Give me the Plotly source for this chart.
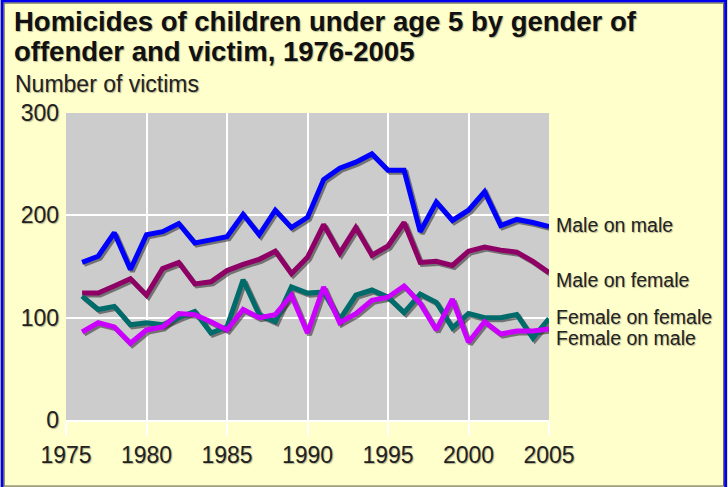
import plotly.graph_objects as go

years = list(range(1976, 2006))
male_on_male = [154, 160, 183, 147, 181, 184, 192, 173, 176, 179,
                201, 181, 205, 188, 198, 235, 246, 252, 260, 244,
                244, 184, 213, 195, 205, 223, 190, 196, 193, 189]
male_on_female = [124, 124, 131, 138, 122, 148, 154, 133, 135, 146,
                  152, 157, 165, 143, 159, 191, 163, 188, 161, 170,
                  193, 154, 155, 151, 165, 169, 166, 164, 155, 144]
female_on_female = [121, 108, 111, 93, 95, 93, 100, 106, 85, 91,
                    137, 103, 96, 130, 124, 125, 98, 122, 127, 120,
                    105, 123, 115, 90, 104, 100, 100, 103, 80, 99]
female_on_male = [86, 95, 91, 75, 88, 91, 104, 103, 96, 88,
                  108, 100, 103, 122, 85, 130, 95, 104, 117, 120,
                  131, 114, 88, 118, 76, 96, 84, 87, 87, 89]

series_names = ["Male on male", "Male on female", "Female on female", "Female on male"]
series_values = [male_on_male, male_on_female, female_on_female, female_on_male]
series_colors = ["#0000FF", "#8E0066", "#006B6B", "#CC00FF"]
label_y = [191, 137, 101, 80]

title_lines = ["Homicides of children under age 5 by gender of",
               "offender and victim, 1976-2005"]
y_title = "Number of victims"
x_ticks = [1975, 1980, 1985, 1990, 1995, 2000, 2005]
y_ticks = [0, 100, 200, 300]

W, H = 728, 487
L, R, T, B = 65.5, 549.5, 113.3, 420.0
pw, ph = R - L, B - T


def px(xp):
    return (xp - L) / pw


def py(yp):
    return (B - yp) / ph


sdx = 2.0 * 30 / pw
sdy = 2.0 * 300 / ph

fig = go.Figure()
for vals in series_values:
    fig.add_trace(go.Scatter(x=years, y=vals, mode="lines", xaxis="x2", yaxis="y2",
                             line=dict(color="rgba(40,40,40,0.55)", width=5),
                             hoverinfo="skip", showlegend=False))
for name, vals, col in zip(series_names, series_values, series_colors):
    fig.add_trace(go.Scatter(x=years, y=vals, mode="lines", name=name, xaxis="x3", yaxis="y3",
                             line=dict(color=col, width=5), showlegend=False))

txt_shadow = "1px 1px 1px rgba(0,0,0,0.3)"
font_fam = "Liberation Sans, Arial, sans-serif"

for name, ly in zip(series_names, label_y):
    fig.add_annotation(x=2005, y=ly, xref="x", yref="y", text=name, showarrow=False,
                       xanchor="left", yanchor="middle", xshift=5,
                       font=dict(family=font_fam, size=19.5, color="#222", shadow=txt_shadow))

for line, yc in zip(title_lines, [22, 52]):
    fig.add_annotation(x=px(11), y=py(yc), xref="paper", yref="paper", text=line,
                       showarrow=False, xanchor="left", yanchor="middle",
                       font=dict(family=font_fam, size=27.5, color="#111", weight="bold",
                                 shadow=txt_shadow))

fig.add_annotation(x=px(12), y=py(84), xref="paper", yref="paper", text=y_title,
                   showarrow=False, xanchor="left", yanchor="middle",
                   font=dict(family=font_fam, size=23, color="#222", shadow=txt_shadow))

shapes = [
    dict(type="rect", xref="paper", yref="paper", x0=px(1.5), x1=px(726.5), y0=py(495), y1=py(1.5),
         line=dict(color="#0000EE", width=3), layer="above"),
    dict(type="rect", xref="paper", yref="paper", x0=px(3.5), x1=px(724.5), y0=py(486), y1=py(3.5),
         line=dict(color="#555544", width=1), layer="above"),
]

fig.update_layout(
    width=W, height=H,
    margin=dict(l=L, r=W - R, t=T, b=H - B, pad=0),
    paper_bgcolor="#FFFFCC",
    plot_bgcolor="#CCCCCC",
    font=dict(family=font_fam, color="#222"),
    xaxis=dict(range=[1975, 2005], tickvals=x_ticks, ticktext=[str(v) for v in x_ticks],
               showgrid=True, gridcolor="white", gridwidth=2, zeroline=False,
               ticks="outside", ticklen=14, tickwidth=2, tickcolor="white",
               ticklabelstandoff=-1, showline=True, linecolor="white", linewidth=2,
               tickfont=dict(size=23, color="#222", shadow=txt_shadow)),
    yaxis=dict(range=[0, 300], tickvals=y_ticks, showgrid=True, gridcolor="white", gridwidth=2,
               zeroline=False, ticks="", ticklabelstandoff=6,
               tickfont=dict(size=23, color="#222", shadow=txt_shadow)),
    xaxis2=dict(overlaying="x", range=[1975 - sdx, 2005 - sdx], visible=False),
    yaxis2=dict(overlaying="y", range=[0 + sdy, 300 + sdy], visible=False),
    xaxis3=dict(overlaying="x", range=[1975, 2005], visible=False),
    yaxis3=dict(overlaying="y", range=[0, 300], visible=False),
    shapes=shapes,
)

fig.write_html("out.html", config={"displayModeBar": False},
               post_script="document.body.style.margin='0';")
